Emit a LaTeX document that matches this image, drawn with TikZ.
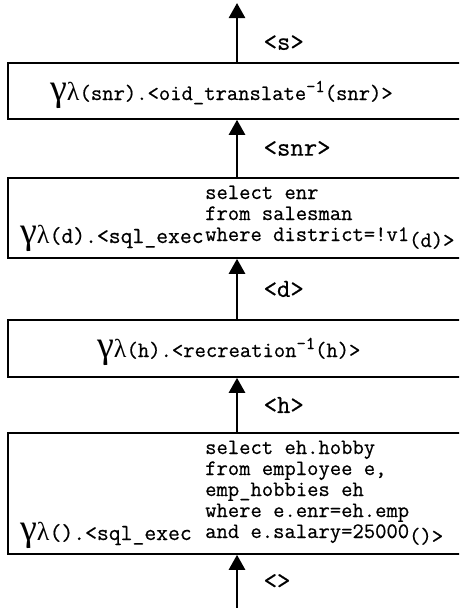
\documentclass[tikz,border=0pt]{standalone}
\usepackage{fontspec}
\setmonofont{Latin Modern Mono}[FakeBold=0.6]
\newfontfamily\greekfont{Liberation Serif}
\usetikzlibrary{arrows.meta}

\newcommand{\opgamma}{{\greekfont\fontsize{38}{38}\selectfont γ}}
\newcommand{\oplambda}{{\greekfont\fontsize{26}{26}\selectfont λ}}
\newcommand{\opsup}[1]{\raisebox{8pt}{\fontsize{18}{18}\selectfont\ttfamily #1}}
\newcommand{\sqlhead}[1]{\makebox[185pt][l]{\fontsize{23}{23}\selectfont #1}}
\newcommand{\sqlblock}[1]{{\fontsize{22}{21}\selectfont\begin{tabular}[b]{@{}l@{}}#1\end{tabular}}}

\tikzset{
  opbox/.style={draw, line width=1.6pt, minimum width=458pt, inner sep=0pt},
  optext/.style={anchor=base west, inner sep=0pt, font=\fontsize{22}{21}\selectfont\ttfamily},
  flow/.style={line width=2.6pt, -{Triangle[length=15pt,width=16pt]}},
  tuple/.style={anchor=west, xshift=22pt, font=\fontsize{26}{26}\selectfont\ttfamily},
}

\begin{document}
\begin{tikzpicture}[x=1pt,y=-1pt]

  \useasboundingbox (0,0) rectangle (459,608);
  \clip (0,0) rectangle (459,608);

  % operator boxes
  \node[opbox, minimum height=56pt]  (box1) at (237,91)    {};
  \node[opbox, minimum height=80pt]  (box2) at (237,218)   {};
  \node[opbox, minimum height=57pt]  (box3) at (237,348.5) {};
  \node[opbox, minimum height=121pt] (box4) at (237,493.5) {};

  \coordinate (out) at (237,3);
  \coordinate (in)  at (237,608);

  % operator texts
  \node[optext] (op1) at (50,100)
    {\opgamma\oplambda(snr).<oid\_translate\opsup{-1}(snr)>};
  \node[optext] (op2) at (20,243)
    {\sqlhead{\opgamma\oplambda(d).<sql\_exec}\raisebox{2pt}{\sqlblock{select enr\\
      from salesman\\
      where district=!v1}}\raisebox{-4pt}{(d)>}};
  \node[optext] (op3) at (97,357)
    {\opgamma\oplambda(h).<recreation\opsup{-1}(h)>};
  \node[optext] (op4) at (20,540)
    {\sqlhead{\opgamma\oplambda().<sql\_exec}\raisebox{2pt}{\sqlblock{select eh.hobby\\
      from employee e,\\
      emp\_hobbies eh\\
      where e.enr=eh.emp\\
      and e.salary=25000}}\raisebox{-3pt}{()>}};

  % data flow
  \draw[flow] (in)          -- node[tuple] {<>}    (box4.south);
  \draw[flow] (box4.north)  -- node[tuple] {<h>}   (box3.south);
  \draw[flow] (box3.north)  -- node[tuple] {<d>}   (box2.south);
  \draw[flow] (box2.north)  -- node[tuple] {<snr>} (box1.south);
  \draw[flow] (box1.north)  -- node[tuple, pos=.33] {<s>} (out);

\end{tikzpicture}
\end{document}
